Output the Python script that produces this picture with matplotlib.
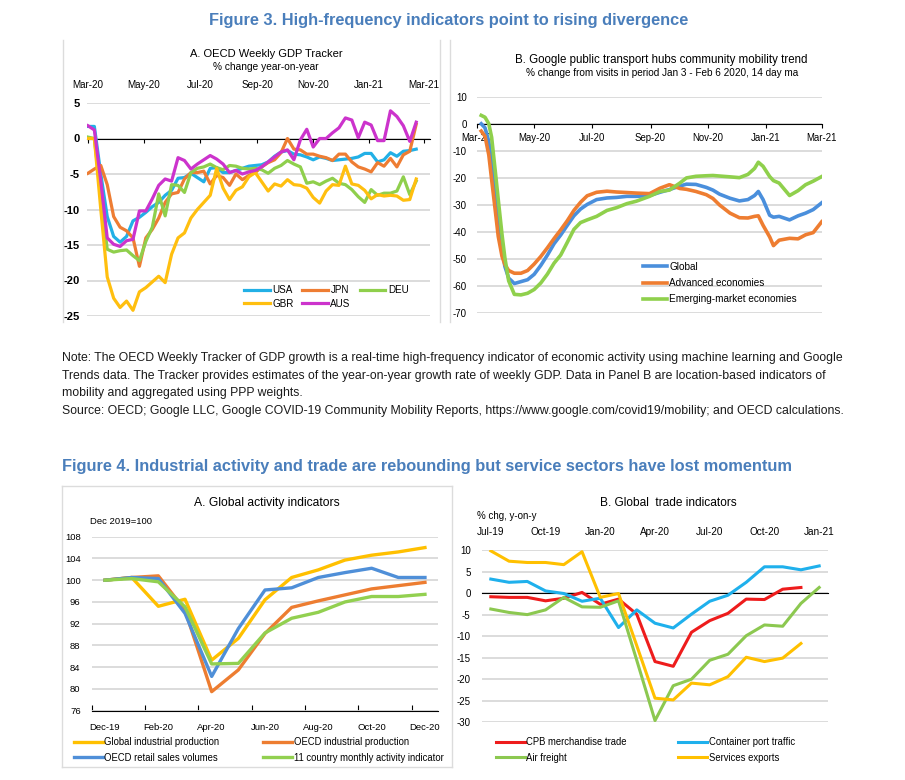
import numpy as np
import pandas as pd
import matplotlib
matplotlib.use("Agg")
import matplotlib.pyplot as plt
import matplotlib.dates as mdates
from matplotlib.lines import Line2D

plt.rcParams["font.family"] = ["Liberation Sans", "DejaVu Sans"]
plt.rcParams["axes.unicode_minus"] = False

# ---- Panel A (top): OECD weekly GDP tracker, weekly from 1 Mar 2020 ----
gdp_usa = [1.7, 1.7, -5.0, -11.0, -13.8, -14.6, -13.8, -11.6, -11.1, -10.4, -9.6, -9.0, -8.0,
           -7.3, -5.6, -5.5, -4.9, -5.5, -6.1, -4.2, -4.1, -4.8, -4.8, -4.5, -4.2, -3.9,
           -3.8, -3.7, -3.3, -2.5, -1.9, -1.7, -2.2, -2.3, -2.6, -3.0, -2.6, -2.8, -3.1,
           -3.0, -2.9, -2.8, -2.6, -2.1, -2.1, -3.3, -3.0, -2.0, -2.5, -1.8, -1.7, -1.5]
gdp_jpn = [-4.9, -4.3, -3.8, -6.5, -11.0, -12.5, -13.0, -14.0, -18.0, -14.0, -12.8, -11.2, -9.0,
           -7.8, -7.6, -5.7, -4.8, -4.8, -4.6, -6.4, -5.2, -5.5, -6.6, -5.0, -5.8, -5.2,
           -4.8, -4.0, -3.4, -3.0, -2.0, 0.0, -1.5, -1.6, -2.2, -2.2, -2.5, -2.7, -3.1,
           -2.2, -2.2, -3.3, -4.0, -4.3, -4.7, -3.4, -3.9, -2.8, -4.0, -2.3, -1.8, 2.0]
gdp_deu = [0.2, 0.0, -8.0, -15.6, -16.0, -15.8, -15.7, -16.5, -17.2, -14.5, -12.5, -7.8, -10.9,
           -6.5, -6.6, -7.6, -4.8, -4.2, -4.0, -3.6, -4.1, -4.4, -3.8, -3.9, -4.2, -4.3,
           -4.2, -4.4, -4.9, -4.2, -3.8, -3.1, -3.6, -4.0, -6.3, -6.1, -6.5, -6.0, -5.6,
           -6.3, -6.5, -7.2, -8.2, -9.0, -7.2, -8.0, -7.7, -7.7, -7.4, -5.4, -7.9, -6.0]
gdp_gbr = [0.0, 0.0, -10.0, -19.5, -22.5, -23.8, -22.9, -24.2, -21.6, -21.0, -20.2, -19.4, -20.3,
           -16.3, -14.0, -13.3, -11.2, -10.0, -9.0, -8.0, -4.2, -7.0, -8.6, -7.3, -6.8, -5.4,
           -4.8, -6.1, -7.4, -6.4, -6.7, -5.8, -6.5, -6.6, -7.0, -8.3, -9.1, -7.4, -6.5,
           -6.6, -3.9, -6.4, -6.6, -7.3, -8.5, -7.9, -8.1, -8.0, -8.1, -8.7, -8.6, -5.7]
gdp_aus = [1.8, 1.2, -6.0, -14.0, -14.9, -15.2, -14.4, -14.2, -10.2, -10.2, -8.5, -6.6, -5.7,
           -6.0, -2.7, -3.1, -4.3, -3.6, -3.0, -2.4, -2.9, -3.6, -4.8, -4.5, -5.0, -4.7,
           -4.5, -4.0, -3.3, -2.6, -1.9, -1.6, -3.0, -0.2, 1.3, -1.2, 0.0, 0.0, 0.8,
           1.5, 2.9, 2.6, 0.1, 2.3, 1.9, -0.3, -0.3, 3.9, 3.1, 1.8, -0.4, 2.3]
gdp_start = "2020-03-01"

# ---- Panel B (top): Google mobility, day offset from 1 Mar 2020 ----
mob_days = [5, 9, 13, 16, 20, 23, 27, 30, 34, 40, 47, 54, 61, 68, 75, 82, 89, 96, 103, 110,
            117, 127, 138, 148, 159, 169, 183, 194, 204, 215, 222, 232, 243, 250, 257, 268,
            278, 287, 294, 298, 303, 310, 314, 320, 331, 340, 348, 356, 365]
mob_global = [0, -1.5, -6.5, -14.4, -25, -35.4, -46, -52.7, -57, -59, -58.3, -57.6, -55.6,
              -52.3, -48.5, -44.3, -41.1, -37.5, -34, -31.5, -29.8, -28, -27.4, -27.2, -26.8,
              -26.8, -26.5, -25.3, -24.3, -23, -22.3, -22.4, -23.5, -24.5, -26, -27.5, -28.5,
              -28, -26.5, -25, -28, -33.8, -34.5, -34.2, -35.5, -34, -33, -31.7, -29.2]
mob_adv = [-2.7, -4.6, -11.5, -20.6, -32.5, -41.6, -49, -52, -54.2, -55.2, -55.2, -54.2, -51.8,
           -49, -45.8, -42.4, -39.2, -35.8, -32, -29, -26.6, -25.3, -24.9, -25.2, -25.4,
           -25.6, -25.8, -23.8, -22.5, -23.9, -24.2, -25, -26.2, -27.6, -30, -33, -34.7,
           -34.8, -34.2, -34, -37.5, -41.8, -45, -43, -42.3, -42.5, -41, -40.2, -36.2]
mob_eme = [3.1, 2.4, 0, -5, -18, -28, -41, -49.5, -58, -63, -63.2, -62.6, -61.2,
           -58.8, -55.5, -51.5, -48.5, -43.8, -39, -36.5, -35.5, -34.2, -32, -31, -29.5,
           -28.6, -26.8, -25, -24.5, -21.9, -20, -19.4, -19.2, -19.1, -19.3, -19.6, -19.9,
           -18.7, -16.5, -14.2, -15.7, -19.5, -21, -21.9, -26.5, -24.7, -22.5, -21.2, -19.5]

# ---- Panel A (bottom): global activity, Dec 2019 = 100 ----
act_months = ["Dec-19", "Jan-20", "Feb-20", "Mar-20", "Apr-20", "May-20", "Jun-20",
              "Jul-20", "Aug-20", "Sep-20", "Oct-20", "Nov-20", "Dec-20"]
act_global_ip = [100.0, 100.5, 95.2, 96.5, 85.3, 89.3, 96.4, 100.5, 101.9, 103.7, 104.6, 105.2, 106.0]
act_oecd_ip = [100.0, 100.5, 100.8, 94.5, 79.5, 83.5, 90.2, 95.0, 96.2, 97.3, 98.4, 99.0, 99.6]
act_retail = [100.0, 100.5, 100.3, 93.9, 82.3, 91.1, 98.2, 98.6, 100.5, 101.4, 102.2, 100.5, 100.5]
act_11c = [100.0, 100.3, 99.7, 95.1, 84.6, 84.7, 90.3, 93.0, 94.1, 96.0, 97.0, 97.0, 97.4]

# ---- Panel B (bottom): global trade, % chg y-on-y, Jul-19 .. Jan-21 ----
trade_months = ["Jul-19", "Aug-19", "Sep-19", "Oct-19", "Nov-19", "Dec-19", "Jan-20", "Feb-20",
                "Mar-20", "Apr-20", "May-20", "Jun-20", "Jul-20", "Aug-20", "Sep-20", "Oct-20",
                "Nov-20", "Dec-20", "Jan-21"]
trade_cpb = [-0.85, -1.0, -1.0, -1.8, -1.2, 0.15, -2.6, -1.4, -4.9, -15.9, -17.0, -9.1, -6.4,
             -4.7, -1.4, -1.5, 0.9, 1.3]
trade_port = [3.25, 2.5, 2.7, 0.5, -0.1, -1.9, -1.2, -8.0, -3.9, -7.0, -8.1, -4.9, -1.9,
              -0.5, 2.5, 6.1, 6.1, 5.4, 6.3]
trade_air = [-3.7, -4.5, -5.0, -3.9, -1.0, -3.2, -3.3, -1.8, -15.6, -29.6, -21.5, -20.0, -15.6,
             -14.2, -9.9, -7.4, -7.7, -2.4, 1.3]
trade_serv = [9.8, 7.4, 7.1, 7.1, 6.6, 9.6, -1.0, -0.1, -12.2, -24.4, -24.8, -20.9, -21.3,
              -19.4, -14.9, -15.9, -15.1, -11.7]

W, H = 905, 780
GRID = "#d9d9d9"
TITLE_BLUE = "#4a7ebb"

fig = plt.figure(figsize=(W / 100, H / 100), dpi=100)


def add_ax(x0, y0, x1, y1):
    return fig.add_axes([x0 / W, 1 - y1 / H, (x1 - x0) / W, (y1 - y0) / H])


def ftext(x, y, s, size, ha="center", **kw):
    fig.text(x / W, 1 - y / H, s, ha=ha, va="center", fontsize=size, **kw)


def fline(x0, y0, x1, y1):
    fig.add_artist(Line2D([x0 / W, x1 / W], [1 - y0 / H, 1 - y1 / H],
                          color="#dcdcdc", lw=1.0))


def style(ax, yticks, ysize=7.0):
    for s in ax.spines.values():
        s.set_visible(False)
    ax.set_yticks(yticks)
    ax.grid(axis="y", color=GRID, lw=1.3)
    ax.set_axisbelow(True)
    ax.tick_params(axis="y", length=0, labelsize=ysize)
    ax.set_facecolor("none")


def legend(ax, handles, labels, x, y, ncol, size, **kw):
    ax.legend(handles, labels, loc="upper left", bbox_to_anchor=(x / W, 1 - y / H),
              bbox_transform=fig.transFigure, frameon=False, borderpad=0,
              borderaxespad=0, ncol=ncol, fontsize=size, **kw)


# panel frames
fline(62.5, 40, 62.5, 322)
fline(440, 40, 440, 322)
fline(450, 40, 450, 322)
fline(62, 486, 452, 486)
fline(62, 486, 62, 767)
fline(452, 486, 452, 767)
fline(62, 767, 452, 767)

# titles and notes
ftext(449, 20, "Figure 3. High-frequency indicators point to rising divergence", 11.8,
      color=TITLE_BLUE, fontweight="bold")
ftext(62, 466, "Figure 4. Industrial activity and trade are rebounding but service sectors have lost momentum",
      11.8, ha="left", color=TITLE_BLUE, fontweight="bold")
note_lines = [
    "Note: The OECD Weekly Tracker of GDP growth is a real-time high-frequency indicator of economic activity using machine learning and Google",
    "Trends data. The Tracker provides estimates of the year-on-year growth rate of weekly GDP. Data in Panel B are location-based indicators of",
    "mobility and aggregated using PPP weights.",
    "Source: OECD; Google LLC, Google COVID-19 Community Mobility Reports, https://www.google.com/covid19/mobility; and OECD calculations.",
]
for i, line in enumerate(note_lines):
    ftext(62, 358 + 17.6 * i, line, 8.8, ha="left", color="#1a1a1a")

# ---------------- Panel A top ----------------
ax = add_ax(87, 103, 430, 316)
style(ax, range(-25, 6, 5), ysize=8.0)
for t in ax.get_yticklabels():
    t.set_fontweight("bold")
ax.set_ylim(-25, 5)
dates = mdates.date2num(pd.date_range(gdp_start, periods=len(gdp_usa), freq="7D"))
ax.set_xlim(mdates.date2num(pd.Timestamp("2020-02-29")), mdates.date2num(pd.Timestamp("2021-03-08")))
series = [("USA", gdp_usa, "#22b0e6"), ("JPN", gdp_jpn, "#ee7d33"), ("DEU", gdp_deu, "#8fcf4c"),
          ("GBR", gdp_gbr, "#ffbf0f"), ("AUS", gdp_aus, "#cc33cc")]
h = {}
for name, vals, col in series:
    h[name], = ax.plot(dates, vals, color=col, lw=2.3, zorder=3)
ax.spines["bottom"].set_visible(True)
ax.spines["bottom"].set_position(("data", 0))
ax.spines["bottom"].set_color("black")
mticks = mdates.date2num(pd.date_range("2020-03-01", "2021-03-01", freq="2MS"))
mlabels = [pd.Timestamp(mdates.num2date(t)).strftime("%b-%y") for t in mticks]
ax.set_xticks(mticks)
ax.tick_params(axis="x", direction="out", length=3, labelbottom=False)
ax.tick_params(axis="y", pad=5)
top = ax.secondary_xaxis("top")
top.set_xticks(mticks, labels=mlabels)
top.tick_params(length=0, pad=9, labelsize=7.1)
top.spines["top"].set_visible(False)
ftext(266, 54, "A. OECD Weekly GDP Tracker", 8.0)
ftext(266, 67, "% change year-on-year", 7.25)
order = ["USA", "GBR", "JPN", "AUS", "DEU"]
legend(ax, [h[n] for n in order], order, 244, 285, 3, 7.1,
       handlelength=2.6, handletextpad=0.25, columnspacing=0.9, labelspacing=0.36)

# ---------------- Panel B top ----------------
ax = add_ax(476.5, 96.7, 821.7, 313.3)
style(ax, range(-70, 11, 10), ysize=7.0)
ax.set_ylim(-70, 10)
d0 = mdates.date2num(pd.Timestamp("2020-03-01"))
days = d0 + np.array(mob_days)
ax.set_xlim(d0, mdates.date2num(pd.Timestamp("2021-03-01")))
hb = []
for vals, col in [(mob_global, "#4a8fdc"), (mob_adv, "#ee7d31"), (mob_eme, "#8fd04c")]:
    l, = ax.plot(days, vals, color=col, lw=2.6, zorder=3)
    hb.append(l)
ax.spines["bottom"].set_visible(True)
ax.spines["bottom"].set_position(("data", 0))
ax.spines["bottom"].set_color("black")
ax.set_xticks(mticks, labels=mlabels)
ax.tick_params(axis="x", direction="out", length=3, pad=4, labelsize=6.9)
ax.tick_params(axis="y", pad=7)
ftext(661, 60, "B. Google public transport hubs community mobility trend", 8.3)
ftext(662, 73, "% change from visits in period Jan 3 - Feb 6 2020, 14 day ma", 7.2)
legend(ax, hb, ["Global", "Advanced economies", "Emerging-market economies"], 643, 262, 1, 7.2,
       handlelength=2.4, handletextpad=0.2, labelspacing=0.62)

# ---------------- Panel A bottom ----------------
ax = add_ax(91.7, 536.7, 438.3, 710.7)
style(ax, range(76, 109, 4), ysize=6.8)
ax.set_ylim(76, 108)
ax.set_xlim(-0.5, 12.5)
xa = np.arange(len(act_months))
ha_ = []
for vals, col in [(act_global_ip, "#ffc000"), (act_oecd_ip, "#ed7d31"),
                  (act_retail, "#4f8fd8"), (act_11c, "#92d050")]:
    l, = ax.plot(xa, vals, color=col, lw=2.4, zorder=3)
    ha_.append(l)
ax.spines["bottom"].set_visible(True)
ax.spines["bottom"].set_color("black")
ax.set_xticks(np.arange(-0.5, 12, 2), labels=[])
ax.set_xticks(xa[::2], labels=act_months[::2], minor=True)
ax.tick_params(axis="x", which="major", direction="in", length=4)
ax.tick_params(axis="x", which="minor", length=0, pad=9, labelsize=6.8)
ax.tick_params(axis="y", pad=8)
ftext(267, 503, "A. Global activity indicators", 8.7)
ftext(90, 521, "Dec 2019=100", 6.8, ha="left")
legend(ax, [ha_[0], ha_[2], ha_[1], ha_[3]],
       ["Global industrial production", "OECD retail sales volumes",
        "OECD industrial production", "11 country monthly activity indicator"],
       74, 737, 2, 6.85, handlelength=3.0, handletextpad=0.2, columnspacing=4.6, labelspacing=0.6)

# ---------------- Panel B bottom ----------------
ax = add_ax(481.7, 550, 828.3, 722.3)
style(ax, range(-30, 11, 5), ysize=7.0)
ax.set_ylim(-30, 10)
ax.set_xlim(-0.5, 18.5)
hbt = []
for vals, col in [(trade_cpb, "#ee1c1c"), (trade_port, "#1fb0ec"),
                  (trade_air, "#8cc850"), (trade_serv, "#ffc000")]:
    l, = ax.plot(np.arange(len(vals)), vals, color=col, lw=2.2, zorder=3)
    hbt.append(l)
ax.spines["bottom"].set_visible(True)
ax.spines["bottom"].set_position(("data", 0))
ax.spines["bottom"].set_color("black")
ax.set_xticks([])
ax.tick_params(axis="y", pad=8)
top = ax.secondary_xaxis("top")
top.set_xticks(np.arange(0, 19, 3), labels=trade_months[::3])
top.tick_params(length=0, pad=9, labelsize=7.2)
top.spines["top"].set_visible(False)
ftext(668, 503, "B. Global  trade indicators", 8.6)
ftext(477, 516, "% chg, y-on-y", 7.0, ha="left")
legend(ax, [hbt[0], hbt[2], hbt[1], hbt[3]],
       ["CPB merchandise trade", "Air freight", "Container port traffic", "Services exports"],
       496, 737, 2, 6.85, handlelength=3.0, handletextpad=0.2, columnspacing=5.4, labelspacing=0.6)

fig.savefig("out.png", dpi=100)
